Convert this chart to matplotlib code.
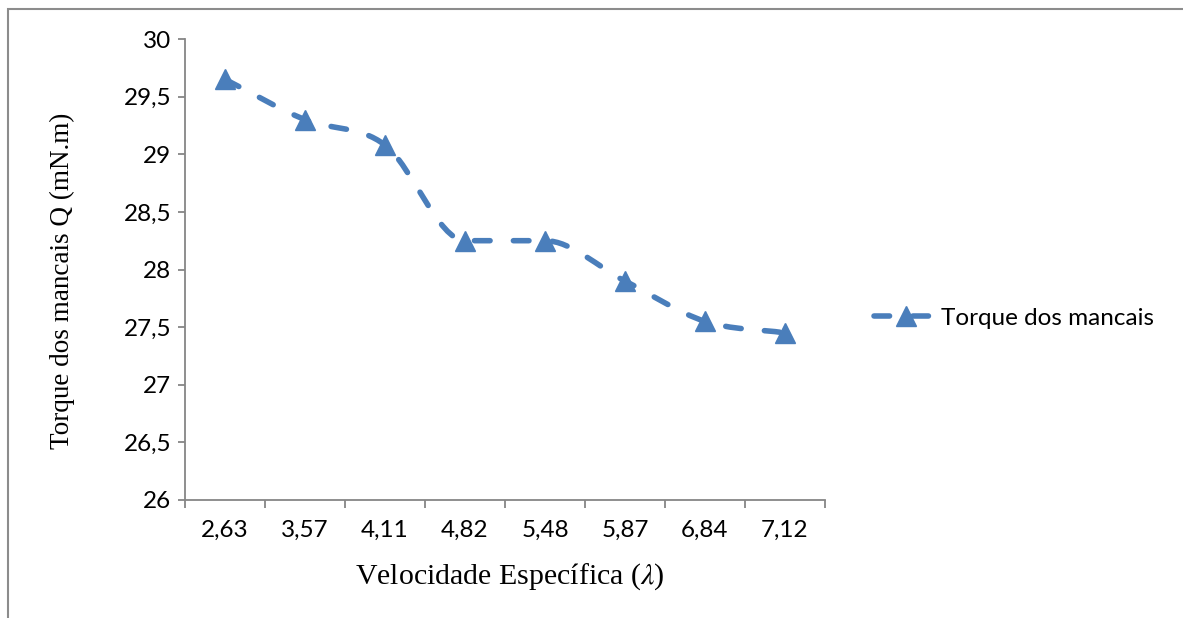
import matplotlib
matplotlib.use("Agg")
import matplotlib.pyplot as plt
import numpy as np
from matplotlib.path import Path
from matplotlib.patches import PathPatch, Rectangle
from matplotlib.lines import Line2D

categories = ["2,63", "3,57", "4,11", "4,82", "5,48", "5,87", "6,84", "7,12"]
torque = [29.65, 29.3, 29.08, 28.25, 28.25, 27.9, 27.55, 27.45]
series_name = "Torque dos mancais"
y_ticks = [26, 26.5, 27, 27.5, 28, 28.5, 29, 29.5, 30]

plt.rcParams["mathtext.fontset"] = "stix"
W, H = 1183, 618
fig = plt.figure(figsize=(W / 100, H / 100), dpi=100)
ax = fig.add_axes([185 / W, 1 - 500 / H, (825 - 185) / W, (500 - 39) / H])

color = "#4A7EBB"
gray = "#868686"
LW = 4.0
DASH = (0, (2.8, 4.2))

# Smoothed path through the data points (cubic Bezier, tangents flattened at plateaus)
x = np.arange(len(torque), dtype=float)
y = np.array(torque, dtype=float)
n = len(y)
slopes = np.diff(y) / np.diff(x)
tang = np.zeros(n)
for i in range(n):
    if i == 0:
        tang[i] = slopes[0]
    elif i == n - 1:
        tang[i] = slopes[-1]
    else:
        a, b = slopes[i - 1], slopes[i]
        tang[i] = 0.0 if a * b <= 0 else (a + b) / 2.0
verts = [(x[0], y[0])]
codes = [Path.MOVETO]
for i in range(n - 1):
    h = x[i + 1] - x[i]
    c1 = (x[i] + h / 3.0, y[i] + tang[i] * h / 3.0)
    c2 = (x[i + 1] - h / 3.0, y[i + 1] - tang[i + 1] * h / 3.0)
    verts += [c1, c2, (x[i + 1], y[i + 1])]
    codes += [Path.CURVE4] * 3
patch = PathPatch(Path(verts, codes), fill=False, edgecolor=color, linewidth=LW,
                  linestyle=DASH, capstyle="round", zorder=2)
ax.add_patch(patch)
ax.plot(x, y, linestyle="none", marker="^", markersize=15, color=color,
        markeredgecolor=color, zorder=3)

ax.set_xlim(-0.5, len(categories) - 0.5)
ax.set_ylim(26, 30)
ax.set_yticks(y_ticks)
ax.set_yticklabels([("%g" % v).replace(".", ",") for v in y_ticks])
ax.set_xticks(np.arange(len(categories)))
ax.set_xticklabels(categories)
ax.set_xticks(np.arange(len(categories) + 1) - 0.5, minor=True)

for s in ["top", "right"]:
    ax.spines[s].set_visible(False)
for s in ["left", "bottom"]:
    ax.spines[s].set_color(gray)
    ax.spines[s].set_linewidth(1.3)

FS = 17.5
ax.tick_params(axis="y", direction="out", length=5, width=1.3, color=gray, pad=5)
ax.tick_params(axis="x", which="major", length=0, pad=14)
ax.tick_params(axis="x", which="minor", direction="out", length=6, width=1.3, color=gray)
for lab in ax.get_xticklabels() + ax.get_yticklabels():
    lab.set_fontfamily("Lato")
    lab.set_fontsize(FS)
    lab.set_color("black")

fig.text(510 / W, 1 - 577 / H, "Velocidade Específica ($\\lambda$)", family="Liberation Serif",
         fontsize=21.5, ha="center", va="center")
fig.text(62 / W, 1 - 281 / H, "Torque dos mancais Q (mN.m)", family="Liberation Serif",
         fontsize=19.5, ha="center", va="center", rotation=90)

handle = Line2D([], [], color=color, linewidth=LW, linestyle=DASH,
                dash_capstyle="round", marker="^", markersize=15)
leg = ax.legend([handle], [series_name], loc="center left",
                bbox_to_anchor=(862 / W, 1 - 318 / H), bbox_transform=fig.transFigure,
                frameon=False, borderpad=0, handlelength=2.6, handletextpad=0.15,
                numpoints=1, prop=dict(family="Lato", size=FS))

# chart area border (left and top visible)
fig.patches.append(Rectangle((8 / W, -0.1), 1.2, (1 - 9.5 / H) + 0.1, transform=fig.transFigure,
                             fill=False, edgecolor="#8c8c8c", linewidth=1.5))

fig.savefig("out.png", dpi=100)
